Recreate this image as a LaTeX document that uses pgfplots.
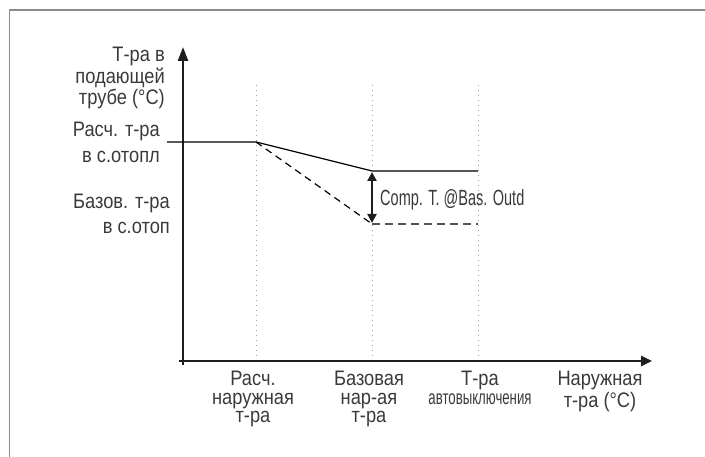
\documentclass[border=0pt]{standalone}
\usepackage{fontspec}
\setmainfont{Liberation Sans}[FakeStretch=0.87]
\newfontfamily\condfont{Liberation Sans}[FakeStretch=0.66]
\usepackage{pgfplots}
\pgfplotsset{compat=1.18}
\usetikzlibrary{arrows.meta}
\definecolor{txt}{HTML}{3A3A3A}
\definecolor{axc}{HTML}{1E1E1E}
\definecolor{frm}{HTML}{8C8C8C}
\definecolor{dotc}{HTML}{A0A0A0}
\definecolor{hor}{HTML}{555555}
\tikzset{
  lab/.style={text=txt, inner sep=0pt},
}
\newcommand\fs[1]{\fontsize{21bp}{#1bp}\selectfont}
\begin{document}
\begin{tikzpicture}[x=1bp,y=1bp]
\useasboundingbox (0,0) rectangle (705,457);
\begin{axis}[
  at={(0,0)}, anchor=south west,
  scale only axis, width=705bp, height=457bp,
  xmin=0, xmax=705, ymin=0, ymax=457, y dir=reverse,
  hide axis, clip=false,
]
% frame
\addplot[frm, line width=1.5bp] coordinates {(9.5,457) (9.5,10) (705,10)};
% dotted guides
\addplot[dotc, line width=1bp, dash pattern=on 1bp off 4bp] coordinates {(256,85) (256,359)};
\addplot[dotc, line width=1bp, dash pattern=on 1bp off 4bp] coordinates {(372,85) (372,359)};
\addplot[dotc, line width=1bp, dash pattern=on 1bp off 4bp] coordinates {(478,85) (478,359)};
% axes
\addplot[axc, line width=2.5bp, -{Triangle[length=14bp,width=10bp]}] coordinates {(183,365) (183,47)};
\addplot[axc, line width=2.5bp, -{Triangle[length=11bp,width=10bp]}] coordinates {(179,361) (652,361)};
% design curve (solid)
\addplot[black, line width=1.2bp] coordinates {(167,142) (256,142) (372,171)};
\addplot[hor, line width=1.6bp] coordinates {(372,171) (478,171)};
% base curve (dashed)
\addplot[black, line width=1.2bp, dash pattern=on 7bp off 5bp] coordinates {(256,142) (372,224)};
\addplot[hor, line width=1.6bp, dash pattern=on 8bp off 5bp] coordinates {(372,224) (478,224)};
% compensation arrow
\addplot[axc, line width=2.2bp, {Triangle[length=9bp,width=9bp]}-{Triangle[length=9bp,width=9bp]}] coordinates {(372,172) (372,223)};
\node[lab, anchor=base west, font=\condfont\fontsize{22bp}{24bp}\selectfont] at (axis cs:380,206) {Comp. T. @Bas. Outd};
% y label
\node[lab, anchor=north east, align=right, font=\fs{21.5}] at (axis cs:165,47) {Т-ра в\\подающей\\трубе (°C)};
% left labels
\node[lab, anchor=north east, align=right, font=\fs{26}] at (axis cs:160,122) {Расч. т-ра\\в с.отопл};
\node[lab, anchor=north east, align=right, font=\fs{25}] at (axis cs:170,194) {Базов. т-ра\\в с.отоп};
% x labels
\node[lab, anchor=north, align=center, font=\fs{18.5}] at (axis cs:253,371) {Расч.\\наружная\\т-ра};
\node[lab, anchor=north, align=center, font=\fs{18.5}] at (axis cs:369,371) {Базовая\\нар-ая\\т-ра};
\node[lab, anchor=north, align=center, font=\fs{18.5}] at (axis cs:480,371) {Т-ра\\{\condfont\fontsize{20bp}{18.5bp}\selectfont автовыключения}};
\node[lab, anchor=north, align=center, font=\fs{22}] at (axis cs:600,371) {Наружная\\т-ра (°C)};
\end{axis}
\end{tikzpicture}
\end{document}
